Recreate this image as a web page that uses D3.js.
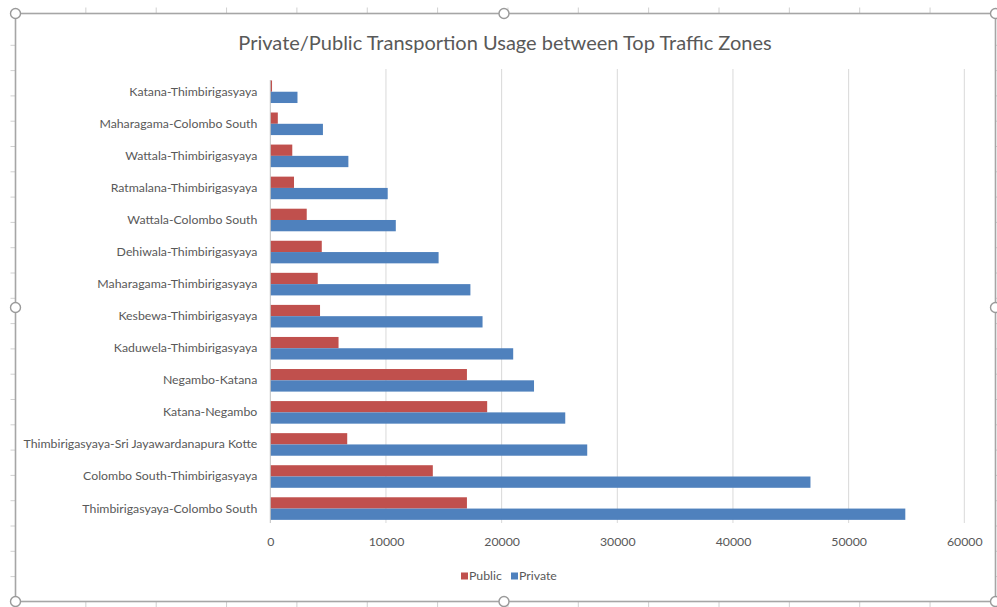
<!DOCTYPE html>
<html>
<head>
<meta charset="utf-8">
<script src="https://cdn.jsdelivr.net/npm/d3@7"></script>
<style>
  html, body { margin: 0; padding: 0; background: #fff; }
  svg { display: block; }
  text { font-family: Lato, "Open Sans", "DejaVu Sans", sans-serif; }
</style>
</head>
<body>
<svg id="chart" width="997" height="607"></svg>
<script>
// Origin-destination zone pairs, listed top to bottom
const categories = [
  "Katana-Thimbirigasyaya",
  "Maharagama-Colombo South",
  "Wattala-Thimbirigasyaya",
  "Ratmalana-Thimbirigasyaya",
  "Wattala-Colombo South",
  "Dehiwala-Thimbirigasyaya",
  "Maharagama-Thimbirigasyaya",
  "Kesbewa-Thimbirigasyaya",
  "Kaduwela-Thimbirigasyaya",
  "Negambo-Katana",
  "Katana-Negambo",
  "Thimbirigasyaya-Sri Jayawardanapura Kotte",
  "Colombo South-Thimbirigasyaya",
  "Thimbirigasyaya-Colombo South"
];
const publicValues = [150, 650, 1900, 2050, 3150, 4450, 4100, 4300, 5900, 17000, 18750, 6650, 14050, 17000];
const privateValues = [2350, 4550, 6750, 10150, 10850, 14550, 17300, 18350, 21000, 22800, 25500, 27400, 46700, 54900];
const seriesNames = ["Public", "Private"];
const seriesColors = ["#C0504D", "#4F81BD"];
const xTicks = [0, 10000, 20000, 30000, 40000, 50000, 60000];
const titleText = "Private/Public Transportion Usage between Top Traffic Zones";

const svg = d3.select("#chart");

// ---- selection frame around the chart object ----
const frame = { left: 15.5, right: 995.5, top: 13.5, bottom: 601.5 };
const frameColor = "#a6a6a6";
const rulerStep = 70.35;
const g0 = svg.append("g");

d3.range(1, 14).forEach(k => {
  const x = frame.left + rulerStep * k;
  g0.append("line").attr("x1", x).attr("x2", x).attr("y1", frame.top - 6).attr("y2", frame.top)
    .attr("stroke", "#d0d0d0").attr("stroke-width", 1);
  g0.append("line").attr("x1", x).attr("x2", x).attr("y1", frame.bottom).attr("y2", frame.bottom + 6)
    .attr("stroke", "#d0d0d0").attr("stroke-width", 1);
});
d3.range(1, 23).forEach(k => {
  const y = 20 + 25.3 * k;
  g0.append("line").attr("x1", frame.left - 5).attr("x2", frame.left).attr("y1", y).attr("y2", y)
    .attr("stroke", "#d0d0d0").attr("stroke-width", 1);
  g0.append("line").attr("x1", frame.right).attr("x2", frame.right + 5).attr("y1", y).attr("y2", y)
    .attr("stroke", "#d0d0d0").attr("stroke-width", 1);
});
g0.append("rect")
  .attr("x", frame.left).attr("y", frame.top)
  .attr("width", frame.right - frame.left).attr("height", frame.bottom - frame.top)
  .attr("fill", "none").attr("stroke", frameColor).attr("stroke-width", 1.6);

const midX = 504;
const midY = (frame.top + frame.bottom) / 2;
[[frame.left, frame.top], [midX, frame.top], [frame.right, frame.top],
 [frame.left, midY], [frame.right, midY],
 [frame.left, frame.bottom], [midX, frame.bottom], [frame.right, frame.bottom]]
  .forEach(([cx, cy]) => {
    g0.append("circle").attr("cx", cx).attr("cy", cy).attr("r", 5)
      .attr("fill", "#fff").attr("stroke", "#9a9a9a").attr("stroke-width", 1.4);
  });

// ---- title ----
svg.append("text")
  .attr("x", 505).attr("y", 50)
  .attr("text-anchor", "middle")
  .attr("fill", "#595959")
  .attr("font-size", 20)
  .text(titleText);

// ---- scales ----
const plot = { left: 270.3, right: 964.3, top: 75.7, bottom: 524.6 };
const x = d3.scaleLinear().domain([0, 60000]).range([plot.left, plot.right]);
const y = d3.scaleBand().domain(categories).range([plot.top, plot.bottom]).padding(0);
const inner = d3.scaleBand().domain(seriesNames).range([0, y.bandwidth()]).paddingInner(0).paddingOuter(0.42);

// gridlines
svg.append("g")
  .selectAll("line")
  .data(xTicks.filter(t => t > 0))
  .join("line")
  .attr("x1", d => x(d)).attr("x2", d => x(d))
  .attr("y1", 69).attr("y2", 523)
  .attr("stroke", "#d9d9d9").attr("stroke-width", 1);

// bars
const rows = categories.map((c, i) => ({ cat: c, values: [publicValues[i], privateValues[i]] }));
const groups = svg.append("g").selectAll("g")
  .data(rows).join("g")
  .attr("transform", d => `translate(0,${y(d.cat)})`);
groups.selectAll("rect")
  .data(d => d.values.map((v, j) => ({ key: seriesNames[j], v, color: seriesColors[j] })))
  .join("rect")
  .attr("x", x(0))
  .attr("y", d => inner(d.key))
  .attr("width", d => x(d.v) - x(0))
  .attr("height", inner.bandwidth())
  .attr("fill", d => d.color);

// category axis line
svg.append("line")
  .attr("x1", x(0)).attr("x2", x(0))
  .attr("y1", 80).attr("y2", 523)
  .attr("stroke", "#bfbfbf").attr("stroke-width", 1);

// category labels
const yAxis = d3.axisLeft(y).tickSize(0).tickPadding(13);
const yg = svg.append("g").attr("transform", `translate(${x(0)},0)`).call(yAxis);
yg.select(".domain").remove();
yg.selectAll("text").attr("fill", "#595959").attr("font-size", 12.3)
  .style("font-family", "Lato, 'Open Sans', sans-serif");

// value axis labels
const xAxis = d3.axisBottom(x).tickValues(xTicks).tickSize(0).tickPadding(0).tickFormat(d3.format("d"));
const xg = svg.append("g").attr("transform", `translate(0,537)`).call(xAxis);
xg.select(".domain").remove();
xg.selectAll("text").attr("fill", "#595959").attr("font-size", 12.3)
  .style("font-family", "Lato, 'Open Sans', sans-serif");

// legend
const legend = svg.append("g").attr("transform", "translate(461,576)");
const legendItems = [{ name: seriesNames[0], color: seriesColors[0], dx: 0 },
                     { name: seriesNames[1], color: seriesColors[1], dx: 50 }];
legendItems.forEach(it => {
  legend.append("rect").attr("x", it.dx).attr("y", -3.5).attr("width", 7).attr("height", 7).attr("fill", it.color);
  legend.append("text").attr("x", it.dx + 8).attr("y", 0).attr("dy", "0.35em")
    .attr("fill", "#595959").attr("font-size", 12.3).text(it.name);
});
</script>
</body>
</html>
